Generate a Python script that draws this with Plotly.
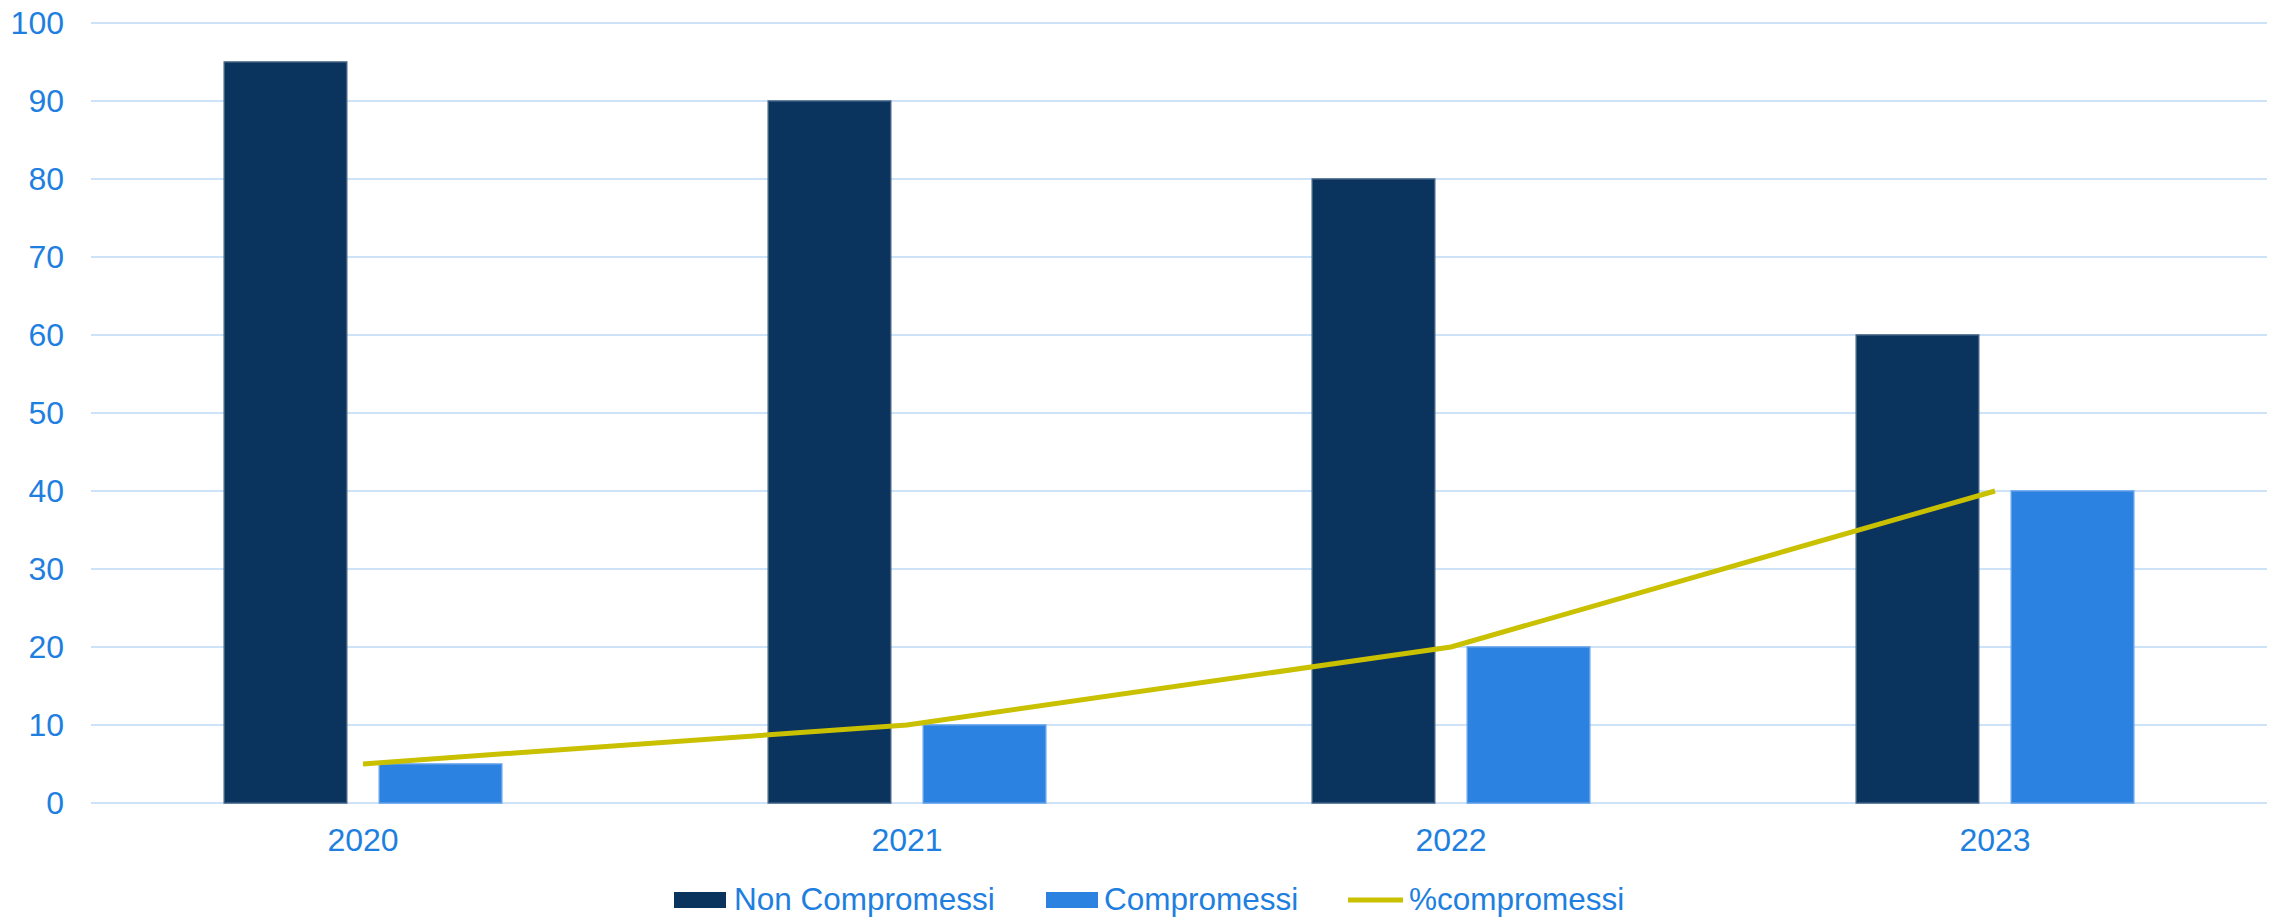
import plotly.graph_objects as go

years = ["2020", "2021", "2022", "2023"]
non_compromessi = [95, 90, 80, 60]
compromessi = [5, 10, 20, 40]
perc_compromessi = [5, 10, 20, 40]
y_ticks = [0, 10, 20, 30, 40, 50, 60, 70, 80, 90, 100]

DARK = "#0A335E"
LIGHT = "#2C82E1"
LINE = "#C9C000"
TEXT = "#1E7FE0"
GRID = "#CFE3F8"
FONT = "Liberation Sans, Arial, sans-serif"

W, H = 2277, 917
L, R, T, B = 91, 10, 20, 111
PW, PH = W - L - R, H - T - B

fig = go.Figure()
fig.add_trace(go.Bar(x=years, y=non_compromessi, name="Non Compromessi",
                     marker=dict(color=DARK, line=dict(color="#3F5F80", width=1.5)),
                     showlegend=False))
fig.add_trace(go.Bar(x=years, y=compromessi, name="Compromessi",
                     marker=dict(color=LIGHT, line=dict(color="#5E9FE8", width=1.5)),
                     showlegend=False))
fig.add_trace(go.Scatter(x=years, y=perc_compromessi, name="%compromessi", mode="lines",
                         line=dict(color=LINE, width=5), showlegend=False))

def px_x(p):
    return (p - L) / PW

def px_y(p):
    return (H - B - p) / PH

# manual legend (Excel-style wide swatches)
shapes = []
annotations = []
legend_items = [
    ("rect", DARK, 674, 726, "Non Compromessi", 733),
    ("rect", LIGHT, 1046, 1098, "Compromessi", 1103),
    ("line", LINE, 1348, 1403, "%compromessi", 1408),
]
for kind, col, x0, x1, label, tx in legend_items:
    if kind == "rect":
        shapes.append(dict(type="rect", xref="paper", yref="paper",
                           x0=px_x(x0), x1=px_x(x1), y0=px_y(908), y1=px_y(892),
                           fillcolor=col, line=dict(width=0)))
    else:
        shapes.append(dict(type="line", xref="paper", yref="paper",
                           x0=px_x(x0), x1=px_x(x1), y0=px_y(900), y1=px_y(900),
                           line=dict(color=col, width=5)))
    annotations.append(dict(text=label, xref="paper", yref="paper",
                            x=px_x(tx), y=px_y(899), xanchor="left", yanchor="middle",
                            showarrow=False, font=dict(family=FONT, size=31.5, color=TEXT),
                            borderpad=0))

fig.update_layout(
    width=W, height=H,
    margin=dict(l=L, r=R, t=T, b=B, autoexpand=False),
    paper_bgcolor="white", plot_bgcolor="white",
    barmode="group", bargap=0.43, bargroupgap=0.21,
    font=dict(family=FONT, size=32, color=TEXT),
    shapes=shapes, annotations=annotations,
    showlegend=False,
)
fig.update_xaxes(type="category", showgrid=False, showline=False, zeroline=False,
                 ticks="", tickfont=dict(family=FONT, size=32, color=TEXT),
                 ticklabelstandoff=12)
fig.update_yaxes(range=[-0.4, 100.4], tickvals=y_ticks, showgrid=True, gridcolor=GRID,
                 gridwidth=2, zeroline=True, zerolinecolor=GRID, zerolinewidth=2,
                 showline=False, ticks="", tickfont=dict(family=FONT, size=32, color=TEXT),
                 ticklabelstandoff=26)

fig.write_html("out.html", config={"displayModeBar": False},
               post_script="document.body.style.margin='0';document.body.style.overflow='hidden';")
